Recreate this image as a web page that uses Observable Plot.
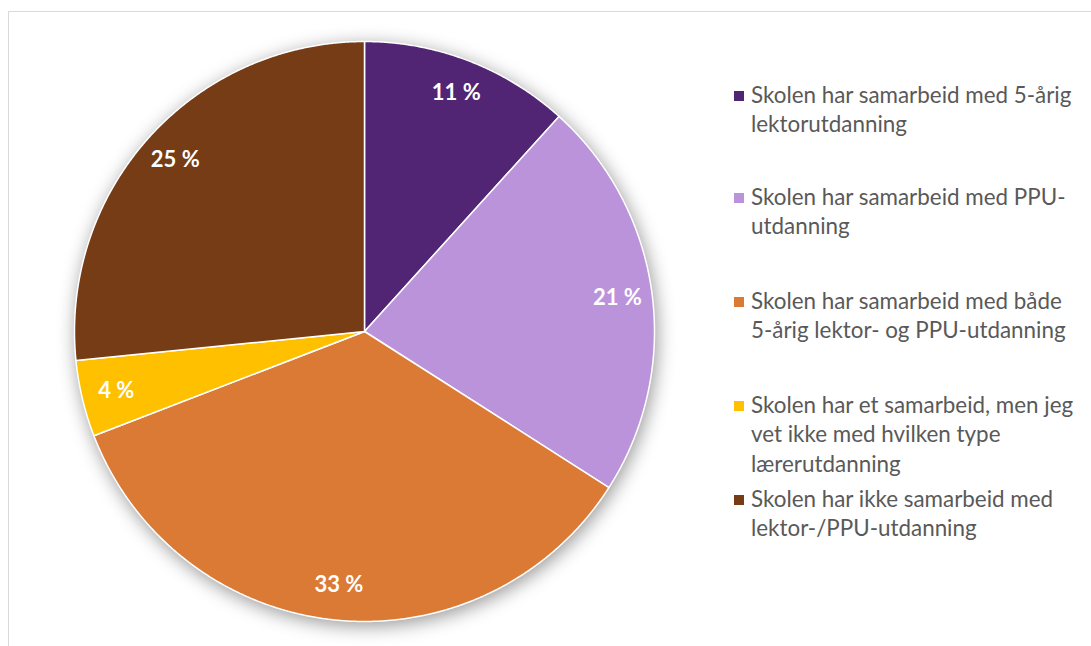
<!DOCTYPE html>
<html><head><meta charset="utf-8">
<script src="https://cdn.jsdelivr.net/npm/d3@7"></script>
<script src="https://cdn.jsdelivr.net/npm/@observablehq/plot@0.6"></script>
<style>
html,body{margin:0;padding:0;background:#fff;width:1091px;height:646px;overflow:hidden;font-family:Lato,"Open Sans",sans-serif;}
#frame{position:absolute;left:8px;top:11px;width:1200px;height:800px;border:1px solid #d9d9d9;box-sizing:border-box;}
#chart{position:absolute;left:0;top:0;}
#legend{position:absolute;left:751px;top:0;color:#595959;font-size:22.4px;line-height:29.5px;}
.item{position:absolute;left:0;white-space:pre;}
.sw{position:absolute;left:-17px;top:11.4px;width:10px;height:10px;}
</style></head>
<body>
<div id="frame"></div>
<div id="chart"></div>
<div id="legend"></div>
<script>
const categories = [
  "Skolen har samarbeid med 5-årig\nlektorutdanning",
  "Skolen har samarbeid med PPU-\nutdanning",
  "Skolen har samarbeid med både\n5-årig lektor- og PPU-utdanning",
  "Skolen har et samarbeid, men jeg\nvet ikke med hvilken type\nlærerutdanning",
  "Skolen har ikke samarbeid med\nlektor-/PPU-utdanning"
];
const values = [11, 21, 33, 4, 25];
const valueLabels = ["11 %", "21 %", "33 %", "4 %", "25 %"];
const colors = ["#512574", "#BB93DB", "#DB7A35", "#FFC000", "#763C16"];

const arcs = d3.pie().sort(null).value(d => d)(values);
const pts = [];
const labs = [];
arcs.forEach((a, i) => {
  const cat = categories[i];
  const n = Math.max(2, Math.ceil((a.endAngle - a.startAngle) / 0.005));
  pts.push({cat, x: 0, y: 0});
  for (let k = 0; k <= n; k++) {
    const t = a.startAngle + (a.endAngle - a.startAngle) * k / n;
    pts.push({cat, x: Math.sin(t), y: Math.cos(t)});
  }
  const m = (a.startAngle + a.endAngle) / 2;
  labs.push({x: 0.88 * Math.sin(m), y: 0.88 * Math.cos(m), label: valueLabels[i]});
});

const plot = Plot.plot({
  width: 728, height: 646,
  marginLeft: 74, marginRight: 74, marginTop: 41, marginBottom: 25,
  x: {domain: [-1, 1], axis: null},
  y: {domain: [-1, 1], axis: null},
  color: {domain: categories, range: colors},
  style: {background: "transparent", overflow: "visible", fontFamily: "Lato, sans-serif"},
  marks: [
    Plot.line(pts, {x: "x", y: "y", z: "cat", fill: "cat", stroke: "white", strokeWidth: 1.5, curve: "linear-closed"}),
    Plot.text(labs, {x: "x", y: "y", text: "label", fill: "white", fontSize: 22, fontWeight: "bold", fontFamily: "Lato, sans-serif"})
  ]
});
d3.select(plot).select('g[aria-label="line"]').style("filter", "drop-shadow(2px 4px 9px rgba(0,0,0,0.4))");
document.getElementById("chart").appendChild(plot);

const tops = [79.6, 181.6, 285.6, 389.6, 483.6];
const legend = d3.select("#legend");
categories.forEach((c, i) => {
  const it = legend.append("div").attr("class", "item").style("top", tops[i] + "px");
  it.append("div").attr("class", "sw").style("background", colors[i]);
  it.append("span").text(c);
});
</script>
</body></html>
